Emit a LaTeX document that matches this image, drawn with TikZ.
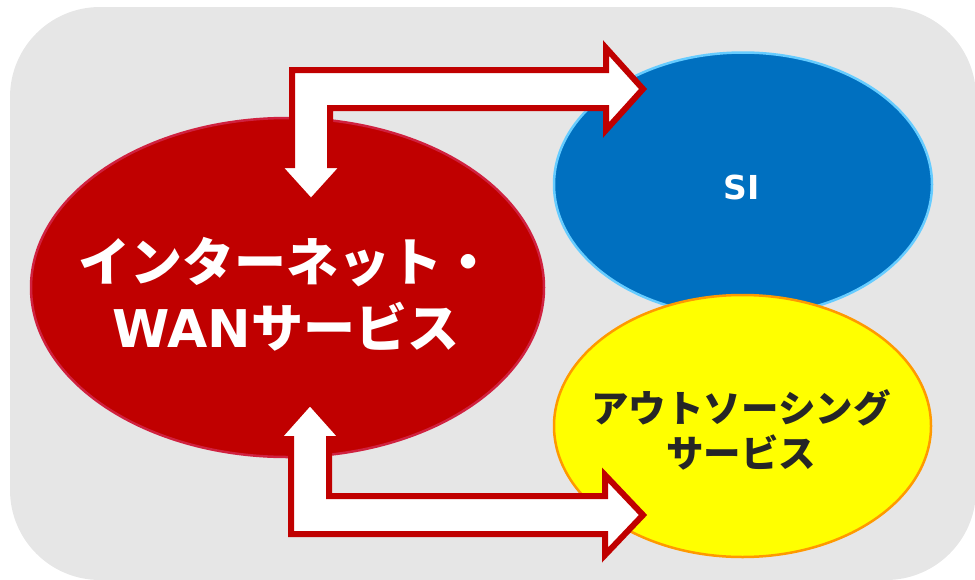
\documentclass[tikz,border=0pt]{standalone}
\usepackage{fontspec}
\setmainfont{Noto Sans CJK JP}
\newfontfamily\latinfont{DejaVu Sans}
\usetikzlibrary{shapes.geometric}
\definecolor{bggray}{HTML}{E6E6E6}
\definecolor{darkred}{HTML}{C00000}
\definecolor{redline}{HTML}{D0213F}
\definecolor{siblue}{HTML}{0070C0}
\definecolor{lightblue}{HTML}{66CCFF}
\definecolor{brightyellow}{HTML}{FFFF00}
\definecolor{textgray}{HTML}{262626}
\definecolor{orangeline}{HTML}{FF9900}
\begin{document}
\begin{tikzpicture}[x=1pt, y=-1pt,
    blob/.style={ellipse, inner sep=0pt, line width=2.5pt},
    blockarrow/.style={fill=white, draw=darkred, line width=6pt, line join=miter}]
    \useasboundingbox (0,0) rectangle (975,579);
    % Background panel
    \fill[bggray, rounded corners=90pt] (10,7) rectangle (976,580);
    % Service ellipses
    \node[blob, fill=darkred, draw=redline, minimum width=513pt, minimum height=339pt] (inet) at (287.5,287.5) {};
    \node[blob, fill=siblue, draw=lightblue, minimum width=378pt, minimum height=264pt] (si) at (743,184.5) {};
    \node[blob, fill=brightyellow, draw=orangeline, minimum width=377pt, minimum height=262pt] (outs) at (742.5,426) {};
    % Upper arrow, down and right
    \draw[blockarrow] (292,70) -- (606,70) -- (606,48) -- (643,89) -- (606,130) -- (606,108)
        -- (330,108) -- (330,165) -- (344.5,165) -- (311,202) -- (277.5,165) -- (292,165) -- cycle;
    % Lower arrow, up and right
    \draw[blockarrow] (291,534) -- (605,534) -- (605,555) -- (643,515) -- (605,475) -- (605,496)
        -- (329,496) -- (329,439) -- (343,439) -- (310,402) -- (277,439) -- (291,439) -- cycle;
    % Labels
    \node[font=\bfseries\fontsize{52pt}{66pt}\selectfont, text=white, align=center] (inetlbl) at (286,294)
        {インターネット・\\{\latinfont WAN}サービス};
    \node[font=\bfseries\latinfont\fontsize{33pt}{38pt}\selectfont, text=white] (silbl) at (742,187) {SI};
    \node[font=\bfseries\fontsize{37.5pt}{45pt}\selectfont, text=textgray, align=center] (outslbl) at (741,430)
        {アウトソーシング\\サービス};
\end{tikzpicture}
\end{document}
